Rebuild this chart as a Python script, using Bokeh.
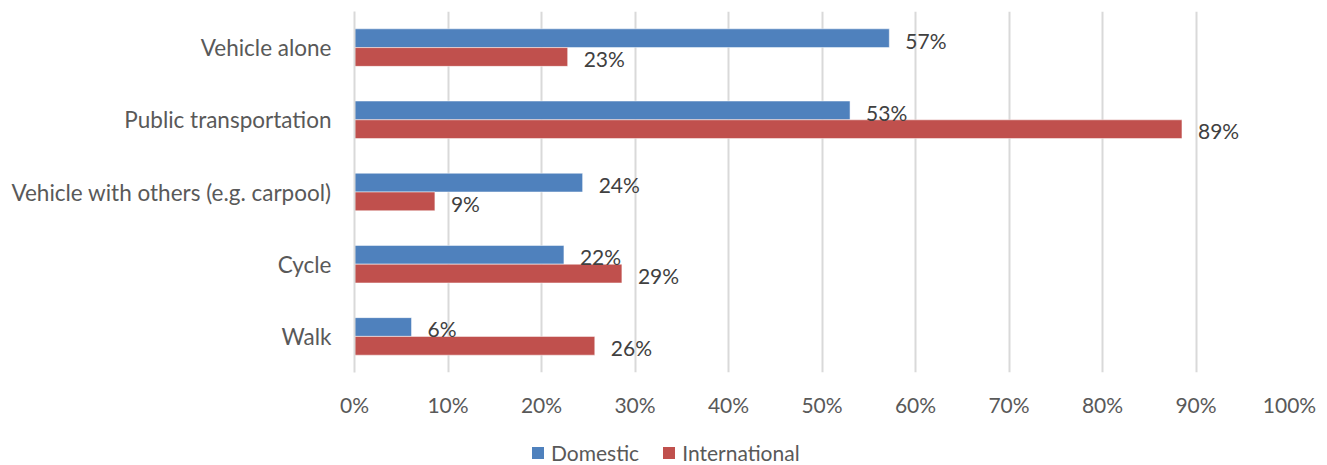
from bokeh.plotting import figure
from bokeh.layouts import column
from bokeh.models import ColumnDataSource, FactorRange, NumeralTickFormatter, FixedTicker, Legend, LegendItem
from bokeh.transform import dodge
from bokeh.core.properties import value
from bokeh.embed import file_html
from bokeh.resources import INLINE

categories = ["Vehicle alone", "Public transportation", "Vehicle with others (e.g. carpool)", "Cycle", "Walk"]
domestic = [0.572, 0.530, 0.244, 0.224, 0.061]
international = [0.228, 0.885, 0.086, 0.286, 0.257]
domestic_labels = ["57%", "53%", "24%", "22%", "6%"]
international_labels = ["23%", "89%", "9%", "29%", "26%"]
series_names = ["Domestic", "International"]
x_ticks = [i / 10 for i in range(11)]

FONT = "Lato"
BLUE = "#4F81BD"
RED = "#C0504D"

src = ColumnDataSource(dict(cat=categories, dom=domestic, intl=international,
                            dl=domestic_labels, il=international_labels))

p = figure(width=1327, height=431, output_backend="svg", toolbar_location=None,
           y_range=FactorRange(*list(reversed(categories)), range_padding=0),
           x_range=(0, 1.0), min_border_left=354, min_border_right=38,
           min_border_top=11, min_border_bottom=59)
p.outline_line_color = None
p.background_fill_color = "white"

p.hbar(y=dodge("cat", 0.13, range=p.y_range), right="dom", height=0.26, source=src,
       fill_color=BLUE, line_color="white", line_alpha=0.5, line_width=1)
p.hbar(y=dodge("cat", -0.13, range=p.y_range), right="intl", height=0.26, source=src,
       fill_color=RED, line_color="white", line_alpha=0.5, line_width=1)

p.text(x="dom", y=dodge("cat", 0.105, range=p.y_range), text="dl", source=src,
       x_offset=16, text_baseline="middle", text_align="left",
       text_font=value(FONT), text_font_size="21px", text_color="#404040")
p.text(x="intl", y=dodge("cat", -0.155, range=p.y_range), text="il", source=src,
       x_offset=16, text_baseline="middle", text_align="left",
       text_font=value(FONT), text_font_size="21px", text_color="#404040")

p.xaxis.ticker = FixedTicker(ticks=x_ticks)
p.xaxis.formatter = NumeralTickFormatter(format="0%")
p.xaxis.axis_line_color = None
p.xaxis.major_tick_line_color = None
p.xaxis.minor_tick_line_color = None
p.xaxis.major_label_standoff = 13
p.xaxis.major_label_text_font = FONT
p.xaxis.major_label_text_font_size = "21px"
p.xaxis.major_label_text_color = "#595959"

p.yaxis.axis_line_color = "#D9D9D9"
p.yaxis.axis_line_width = 2
p.yaxis.major_tick_line_color = None
p.yaxis.minor_tick_line_color = None
p.yaxis.major_label_standoff = 17
p.yaxis.major_label_text_font = FONT
p.yaxis.major_label_text_font_size = "22.5px"
p.yaxis.major_label_text_color = "#595959"

p.ygrid.grid_line_color = None
p.xgrid.grid_line_color = "#D9D9D9"
p.xgrid.grid_line_width = 2

# legend strip below the chart (proxy glyphs lie outside the visible range)
lf = figure(width=1327, height=34, output_backend="svg", toolbar_location=None,
            x_range=(0, 1), y_range=(0, 1), min_border=0)
lf.axis.visible = False
lf.grid.visible = False
lf.outline_line_color = None
proxy = ColumnDataSource(dict(l=[5], r=[6], b=[5], t=[6]))
g1 = lf.quad(left="l", right="r", bottom="b", top="t", source=proxy, fill_color=BLUE, line_color=None)
g2 = lf.quad(left="l", right="r", bottom="b", top="t", source=proxy, fill_color=RED, line_color=None)
legend = Legend(items=[LegendItem(label=series_names[0], renderers=[g1]),
                       LegendItem(label=series_names[1], renderers=[g2])],
                orientation="horizontal", location=(176, 0),
                label_text_font=FONT, label_text_font_size="21px", label_text_color="#595959",
                glyph_width=15, glyph_height=15, label_height=12, spacing=22, label_standoff=6,
                border_line_color=None, background_fill_alpha=0, padding=0, margin=0)
lf.add_layout(legend, "center")

open("out.html", "w").write(file_html(column(p, lf, spacing=0), INLINE))
